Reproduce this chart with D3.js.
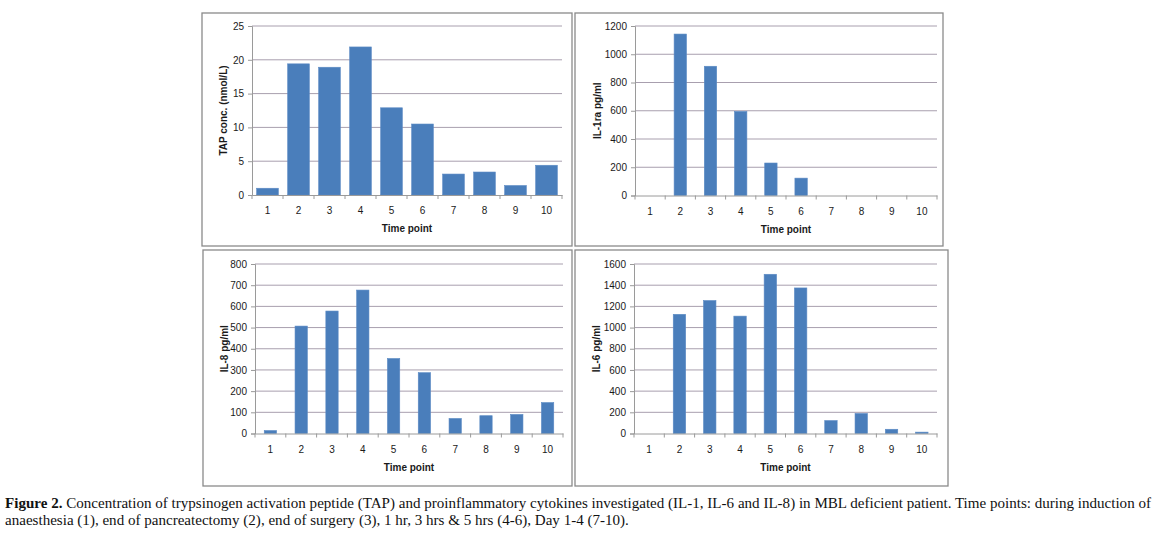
<!DOCTYPE html>
<meta charset="utf-8">
<style>
  body { margin: 0; background: #fff; }
  text { font-family: "Liberation Sans", Arial, sans-serif; fill: #1a1a1a; }
  .cap { font-family: "Liberation Serif", serif; font-size: 14.5px; fill: #111; }
</style>
<script src="https://d3js.org/d3.v7.min.js"></script>
<div id="chart"></div>
<script>
// time points shared by all four panels
var timePoints = ["1", "2", "3", "4", "5", "6", "7", "8", "9", "10"];

// values
var tapValues  = [1.0, 19.4, 18.9, 21.9, 12.9, 10.5, 3.1, 3.4, 1.4, 4.4];
var il1raValues = [0, 1143, 915, 595, 230, 123, 0, 0, 0, 0];
var il8Values  = [14, 507, 578, 677, 354, 287, 71, 84, 90, 146];
var il6Values  = [0, 1125, 1255, 1108, 1503, 1374, 122, 189, 40, 13];

var tapTicks   = [0, 5, 10, 15, 20, 25];
var il1raTicks = [0, 200, 400, 600, 800, 1000, 1200];
var il8Ticks   = [0, 100, 200, 300, 400, 500, 600, 700, 800];
var il6Ticks   = [0, 200, 400, 600, 800, 1000, 1200, 1400, 1600];

var captionLines = [
  ["Figure 2.", " Concentration of trypsinogen activation peptide (TAP) and proinflammatory cytokines investigated (IL-1, IL-6 and IL-8) in MBL deficient patient. Time points: during induction of"],
  ["", "anaesthesia (1), end of pancreatectomy (2), end of surgery (3), 1 hr, 3 hrs & 5 hrs (4-6), Day 1-4 (7-10)."]
];

var svg = d3.select("#chart").append("svg")
    .attr("width", 1161)
    .attr("height", 545);

svg.append("rect").attr("width", 1161).attr("height", 545).attr("fill", "#fff");

var panels = [
  {box: [202, 13, 572, 246], plot: [252, 26, 562, 195], values: tapValues, ticks: tapTicks,
   title: "TAP conc. (nmol/L)", titleX: 223, pad: 0.3},
  {box: [575, 13, 943, 246], plot: [635, 26, 937, 195.5], values: il1raValues, ticks: il1raTicks,
   title: "IL-1ra pg/ml", titleX: 597, pad: 0.59},
  {box: [203, 250, 572, 486], plot: [255, 264, 563, 433.5], values: il8Values, ticks: il8Ticks,
   title: "IL-8 pg/ml", titleX: 224, pad: 0.6},
  {box: [575, 250, 948, 486], plot: [634, 264, 937, 433.5], values: il6Values, ticks: il6Ticks,
   title: "IL-6 pg/ml", titleX: 596, pad: 0.59}
];

panels.forEach(function(p) {
  var g = svg.append("g");

  // panel frame
  g.append("rect")
    .attr("x", p.box[0]).attr("y", p.box[1])
    .attr("width", p.box[2] - p.box[0]).attr("height", p.box[3] - p.box[1])
    .attr("fill", "#fff")
    .attr("stroke", "#8a8a8a")
    .attr("stroke-width", 1.3);

  var left = p.plot[0], top = p.plot[1], right = p.plot[2], bottom = p.plot[3];

  var x = d3.scaleBand()
    .domain(timePoints)
    .range([left, right])
    .paddingInner(p.pad)
    .paddingOuter(p.pad / 2);

  var y = d3.scaleLinear()
    .domain([0, d3.max(p.ticks)])
    .range([bottom, top]);

  // gridlines
  g.append("g")
    .selectAll("line")
    .data(p.ticks.slice(1))
    .enter()
    .append("line")
      .attr("x1", left).attr("x2", right)
      .attr("y1", function(d) { return y(d); })
      .attr("y2", function(d) { return y(d); })
      .attr("stroke", "#a89fae")
      .attr("stroke-width", 1);

  // y axis
  var yAxis = g.append("g")
    .attr("transform", "translate(" + left + ",0)")
    .call(d3.axisLeft(y).tickValues(p.ticks).tickSize(4).tickPadding(4).tickFormat(d3.format("d")));
  yAxis.select(".domain").attr("stroke", "#9a9a9a");
  yAxis.selectAll(".tick line").attr("stroke", "#9a9a9a");
  yAxis.selectAll("text").style("font-size", "10px").attr("fill", "#1a1a1a");

  // bars
  g.append("g")
    .selectAll("rect")
    .data(p.values)
    .enter()
    .append("rect")
      .attr("x", function(d, i) { return x(timePoints[i]); })
      .attr("y", function(d) { return y(d); })
      .attr("width", x.bandwidth())
      .attr("height", function(d) { return bottom - y(d); })
      .attr("fill", "#4a7ebb")
      .attr("stroke", "#5b8ac4")
      .attr("stroke-width", 0.6);

  // x axis: ticks sit between categories
  var step = (right - left) / timePoints.length;
  var xAxis = g.append("g")
    .attr("transform", "translate(0," + bottom + ")")
    .call(d3.axisBottom(x).tickSize(0).tickPadding(12));
  xAxis.select(".domain").attr("stroke", "#9a9a9a");
  xAxis.selectAll("text").style("font-size", "10px").attr("fill", "#1a1a1a");
  g.append("g")
    .selectAll("line")
    .data(d3.range(timePoints.length + 1))
    .enter()
    .append("line")
      .attr("x1", function(i) { return left + i * step; })
      .attr("x2", function(i) { return left + i * step; })
      .attr("y1", bottom).attr("y2", bottom + 4)
      .attr("stroke", "#9a9a9a");

  // axis titles
  g.append("text")
    .attr("x", (left + right) / 2)
    .attr("y", bottom + 37)
    .attr("text-anchor", "middle")
    .style("font-size", "10px")
    .style("font-weight", "bold")
    .text("Time point");

  g.append("text")
    .attr("transform", "translate(" + (p.titleX + 3.5) + "," + ((top + bottom) / 2) + ") rotate(-90)")
    .attr("text-anchor", "middle")
    .style("font-size", "10px")
    .style("font-weight", "bold")
    .text(p.title);
});

// caption, stretched to the width of the figure
var capNodes = [];
captionLines.forEach(function(parts, i) {
  var t = svg.append("text")
    .attr("class", "cap")
    .attr("x", 5)
    .attr("y", 508 + i * 16.5);
  if (parts[0]) t.append("tspan").style("font-weight", "bold").text(parts[0]);
  t.append("tspan").text(parts[1]);
  capNodes.push(t);
});
var k = 1146 / capNodes[0].node().getComputedTextLength();
capNodes.forEach(function(t) {
  var len = t.node().getComputedTextLength();
  t.attr("textLength", len * k).attr("lengthAdjust", "spacingAndGlyphs");
});
</script>
